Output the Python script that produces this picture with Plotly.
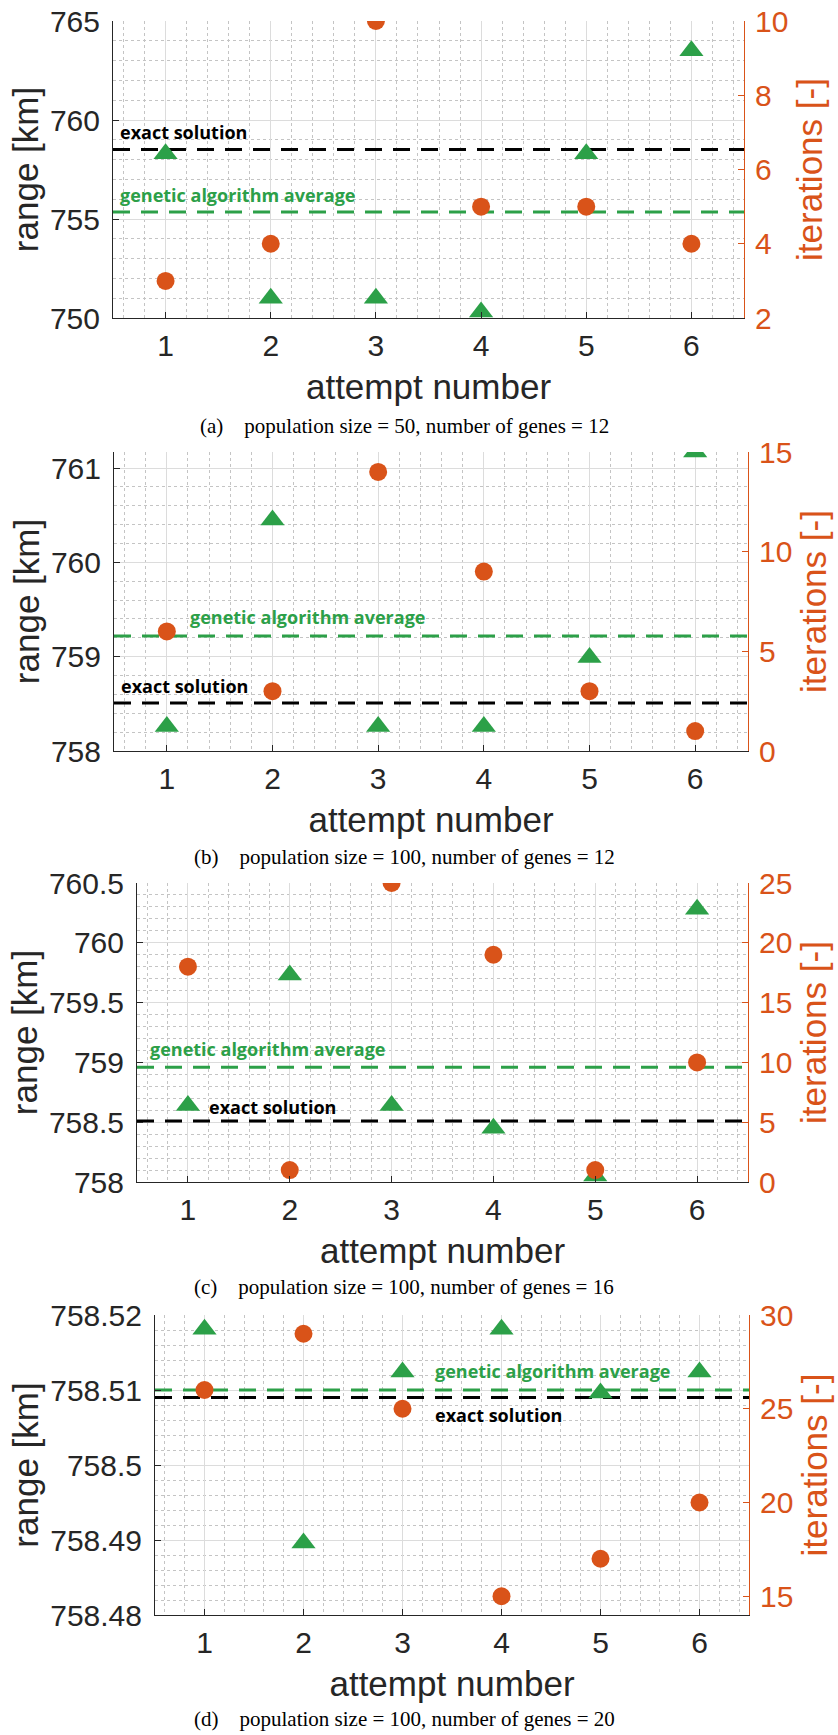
import plotly.graph_objects as go

W, H = 838, 1735

attempts = [1, 2, 3, 4, 5, 6]

range_a = [758.3, 751.0, 751.0, 750.3, 758.3, 763.5]
iter_a = [3, 4, 10, 5, 5, 4]
range_b = [758.26, 760.45, 758.26, 758.26, 758.99, 761.17]
iter_b = [6, 3, 14, 9, 3, 1]
range_c = [758.64, 759.73, 758.64, 758.45, 758.05, 760.28]
iter_c = [18, 1, 25, 19, 1, 10]
range_d = [758.5181, 758.4896, 758.5124, 758.5181, 758.5096, 758.5124]
iter_d = [26, 29, 25, 15, 17, 20]

exact_solution = 758.509
ga_average = [755.35, 759.22, 758.96, 758.5100]

captions = [
    "(a)\u00a0\u00a0\u00a0\u00a0population size = 50, number of genes = 12",
    "(b)\u00a0\u00a0\u00a0\u00a0population size = 100, number of genes = 12",
    "(c)\u00a0\u00a0\u00a0\u00a0population size = 100, number of genes = 16",
    "(d)\u00a0\u00a0\u00a0\u00a0population size = 100, number of genes = 20",
]

left_ranges = [[750, 765], [758, 761.17], [758, 760.5], [758.48, 758.52]]
left_dticks = [5, 1, 0.5, 0.01]
left_minor = [1, 0.2, 0.1, 0.002]
right_ranges = [[2, 10], [0, 15], [0, 25], [14, 30]]
right_dticks = [2, 5, 5, 5]

# pixel boxes (left, right, top, bottom)
boxes = [(113, 744, 21, 318), (114, 748, 452, 751), (137, 748, 883, 1182), (155, 749, 1315, 1615)]
caption_y = [426, 857, 1287, 1719]

# label placement: (x_ga, yshift_ga, x_exact, yshift_exact)
label_pos = [
    (0.55, 17, 0.55, 18),
    (1.2, 19, 0.545, 17),
    (0.61, 18, 1.19, 14),
    (3.31, 19, 3.31, -17),
]

ranges = [range_a, range_b, range_c, range_d]
iters = [iter_a, iter_b, iter_c, iter_d]

ORANGE = "#D95319"
GREEN = "#2CA048"
DARK = "#262626"
TICKFONT = "Liberation Sans, Arial, sans-serif"

fig = go.Figure()
layout = dict(
    template="none",
    width=W, height=H, autosize=False,
    margin=dict(l=0, r=0, t=0, b=0, pad=0),
    paper_bgcolor="white", plot_bgcolor="white",
    showlegend=False,
    annotations=[],
)

for i in range(4):
    n = i + 1
    xa = "x" if n == 1 else f"x{n}"
    yl = "y" if i == 0 else f"y{2 * i + 1}"
    yr = f"y{2 * i + 2}"
    xkey = "xaxis" if n == 1 else f"xaxis{n}"
    ylkey = "yaxis" if i == 0 else f"yaxis{2 * i + 1}"
    yrkey = f"yaxis{2 * i + 2}"
    L, R, T, B = boxes[i]

    fig.add_trace(go.Scatter(x=[0.5, 6.5], y=[exact_solution] * 2, xaxis=xa, yaxis=yl,
                             mode="lines", line=dict(color="black", width=3, dash="17px,11px"),
                             hoverinfo="skip"))
    fig.add_trace(go.Scatter(x=[0.5, 6.5], y=[ga_average[i]] * 2, xaxis=xa, yaxis=yl,
                             mode="lines", line=dict(color=GREEN, width=3, dash="17px,11px"),
                             hoverinfo="skip"))
    fig.add_trace(go.Scatter(x=attempts, y=ranges[i], xaxis=xa, yaxis=yl, mode="markers",
                             marker=dict(symbol="triangle-up", size=21, color=GREEN, line=dict(width=0))))
    fig.add_trace(go.Scatter(x=attempts, y=iters[i], xaxis=xa, yaxis=yr, mode="markers",
                             marker=dict(symbol="circle", size=18, color=ORANGE, line=dict(width=0))))

    layout[xkey] = dict(
        domain=[L / W, R / W], anchor=yl, range=[0.5, 6.5], dtick=1, tick0=0,
        automargin=False,
        showgrid=True, gridcolor="#dcdcdc", gridwidth=1,
        minor=dict(dtick=0.2, tick0=0, showgrid=True, gridcolor="#c4c4c4", griddash="dot", gridwidth=1),
        showline=True, linecolor=DARK, linewidth=1, mirror=False,
        ticks="inside", ticklen=6, tickcolor=DARK,
        tickfont=dict(family=TICKFONT, size=30, color=DARK), ticklabelstandoff=1,
        title=dict(text="attempt number", font=dict(family=TICKFONT, size=35, color=DARK), standoff=13),
        zeroline=False,
    )
    layout[ylkey] = dict(
        domain=[1 - B / H, 1 - T / H], anchor=xa, range=left_ranges[i], dtick=left_dticks[i], tick0=0,
        automargin=False,
        showgrid=True, gridcolor="#dcdcdc", gridwidth=1,
        minor=dict(dtick=left_minor[i], tick0=0, showgrid=True, gridcolor="#c4c4c4", griddash="dot", gridwidth=1),
        showline=True, linecolor=DARK, linewidth=1,
        ticks="inside", ticklen=6, tickcolor=DARK,
        tickfont=dict(family=TICKFONT, size=30, color=DARK), ticklabelstandoff=6,
        title=dict(text="range [km]", font=dict(family=TICKFONT, size=35, color=DARK), standoff=0),
        zeroline=False,
    )
    layout[yrkey] = dict(
        overlaying=yl, side="right", anchor=xa, range=right_ranges[i], dtick=right_dticks[i], tick0=0,
        automargin=False,
        showgrid=False, showline=True, linecolor=ORANGE, linewidth=1,
        ticks="inside", ticklen=6, tickcolor=ORANGE,
        tickfont=dict(family=TICKFONT, size=30, color=ORANGE), ticklabelstandoff=4,
        title=dict(text="iterations [-]", font=dict(family=TICKFONT, size=35, color=ORANGE), standoff=10),
        zeroline=False,
    )

    xg, ysg, xe, yse = label_pos[i]
    layout["annotations"].append(dict(
        x=xg, y=ga_average[i], xref=xa, yref=yl, text="<b>genetic algorithm average</b>",
        showarrow=False, xanchor="left", yanchor="middle", yshift=ysg,
        font=dict(family="Open Sans, sans-serif", size=18, color=GREEN)))
    layout["annotations"].append(dict(
        x=xe, y=exact_solution, xref=xa, yref=yl, text="<b>exact solution</b>",
        showarrow=False, xanchor="left", yanchor="middle", yshift=yse,
        font=dict(family="Open Sans, sans-serif", size=18, color="black")))
    layout["annotations"].append(dict(
        x=404 / W, y=1 - caption_y[i] / H, xref="paper", yref="paper", text=captions[i],
        showarrow=False, xanchor="center", yanchor="middle",
        font=dict(family="Liberation Serif, Times New Roman, serif", size=21, color="black")))

fig.update_layout(**layout)
fig.write_html("out.html", config={"displayModeBar": False},
               post_script="document.body.style.margin='0';document.body.style.overflow='hidden';")
